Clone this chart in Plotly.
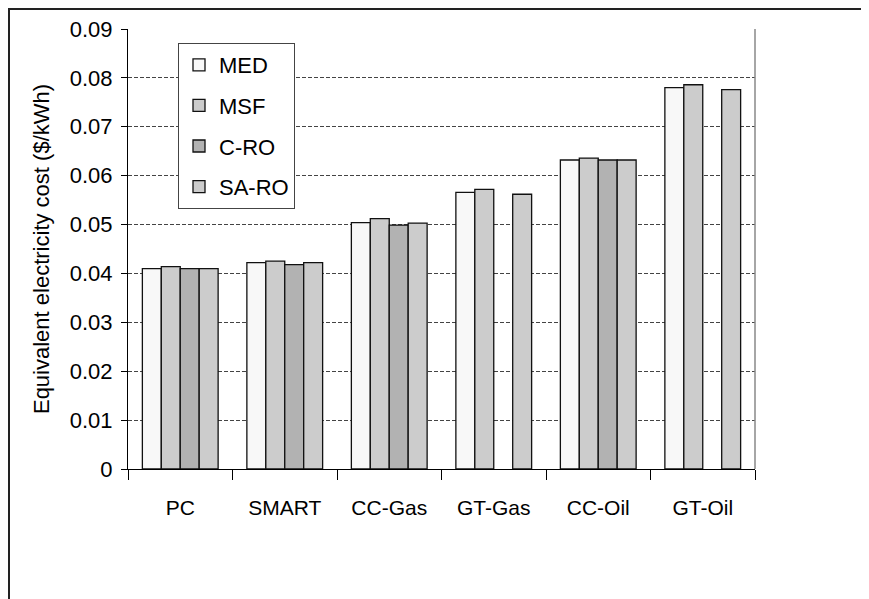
import plotly.graph_objects as go

categories = ["PC", "SMART", "CC-Gas", "GT-Gas", "CC-Oil", "GT-Oil"]
series_names = ["MED", "MSF", "C-RO", "SA-RO"]
med = [0.0410, 0.0422, 0.0504, 0.0566, 0.0632, 0.0780]
msf = [0.0414, 0.0425, 0.0512, 0.0572, 0.0636, 0.0786]
c_ro = [0.0410, 0.0418, 0.0499, None, 0.0632, None]
sa_ro = [0.0410, 0.0422, 0.0503, 0.0562, 0.0632, 0.0776]
colors = ["#f8f8f8", "#cccccc", "#b2b2b2", "#cccccc"]
y_ticks = [0, 0.01, 0.02, 0.03, 0.04, 0.05, 0.06, 0.07, 0.08, 0.09]
y_tick_labels = ["0", "0.01", "0.02", "0.03", "0.04", "0.05", "0.06", "0.07", "0.08", "0.09"]

FONT = "Liberation Sans, Arial, sans-serif"

fig = go.Figure()
for name, vals, col in zip(series_names, [med, msf, c_ro, sa_ro], colors):
    fig.add_trace(go.Bar(
        x=categories, y=vals, name=name, legendgroup=name,
        marker=dict(color=col, line=dict(color="#111111", width=1.3)),
    ))

# page has an 8px body margin; figure coordinates below are page coords - 8
OFF = 8
W, H = 869 - OFF, 599 - OFF
L, R, T, B = 128 - OFF, 114, 29 - OFF, 130
pw, ph = W - L - R, H - T - B

def px(x):
    return (x - OFF - L) / pw

def py(y):
    return (H - B - (y - OFF)) / ph

fig.update_layout(
    width=W, height=H,
    margin=dict(l=L, r=R, t=T, b=B, autoexpand=False),
    paper_bgcolor="white", plot_bgcolor="white",
    barmode="group", bargap=0.275, bargroupgap=0,
    font=dict(family=FONT, size=22, color="black"),
    showlegend=True,
    legend=dict(
        x=px(178), y=py(43), xanchor="left", yanchor="top",
        bordercolor="#444444", borderwidth=1, bgcolor="white",
        font=dict(size=22), tracegroupgap=9,
        itemwidth=30,
    ),
    xaxis=dict(
        type="category", showline=True, linecolor="black", linewidth=1,
        ticks="outside", tickson="boundaries", ticklen=10, tickcolor="black",
        showgrid=False, tickfont=dict(size=21), ticklabelstandoff=20,
    ),
    yaxis=dict(
        range=[0, 0.09], tickvals=y_ticks, ticktext=y_tick_labels,
        showline=True, linecolor="black", linewidth=1,
        ticks="outside", ticklen=6, tickcolor="black",
        showgrid=True, gridcolor="#444444", griddash="4px,2px", gridwidth=1,
        zeroline=False, tickfont=dict(size=22), ticklabelstandoff=4,
        title=dict(text="Equivalent electricity cost ($/kWh)", font=dict(size=22), standoff=14),
        automargin=False,
    ),
    shapes=[
        dict(type="line", xref="paper", yref="paper", x0=1, x1=1, y0=0, y1=1,
             line=dict(color="#888888", width=1.5)),
        dict(type="line", xref="paper", yref="paper", x0=px(9), x1=px(9), y0=py(9), y1=py(610),
             line=dict(color="#222222", width=2)),
        dict(type="line", xref="paper", yref="paper", x0=px(8), x1=px(880), y0=py(9), y1=py(9),
             line=dict(color="#222222", width=2)),
    ],
)

fig.write_html("out.html")
